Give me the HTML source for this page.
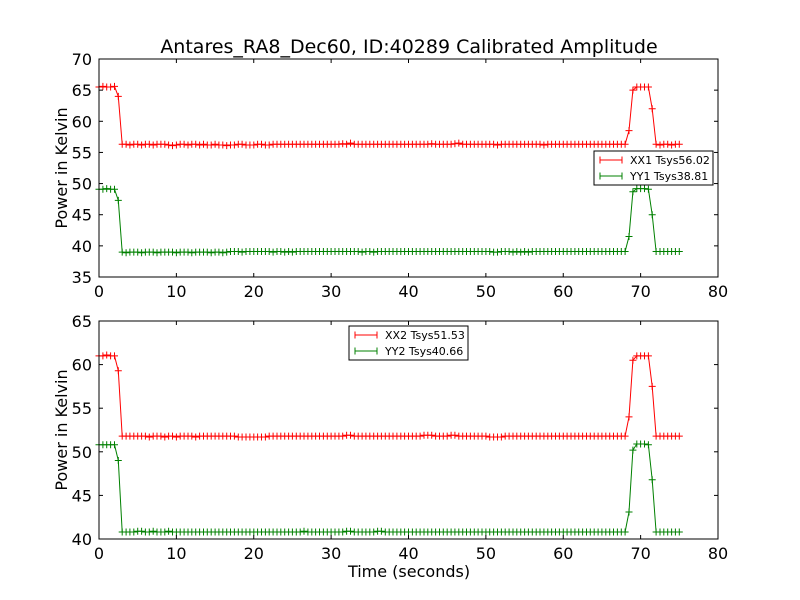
<!DOCTYPE html>
<html><head><meta charset="utf-8"><style>
body{margin:0;background:#fff;}
svg{display:block;font-family:"DejaVu Sans","Liberation Sans",sans-serif;}
</style></head><body>
<svg id="chart" width="800" height="600" viewBox="0 0 800 600">
<rect width="800" height="600" fill="#fff"/>
</svg>
<script>
const times = [0,0.5,1,1.5,2,2.5,3,3.5,4,4.5,5,5.5,6,6.5,7,7.5,8,8.5,9,9.5,10,10.5,11,11.5,12,12.5,13,13.5,14,14.5,15,15.5,16,16.5,17,17.5,18,18.5,19,19.5,20,20.5,21,21.5,22,22.5,23,23.5,24,24.5,25,25.5,26,26.5,27,27.5,28,28.5,29,29.5,30,30.5,31,31.5,32,32.5,33,33.5,34,34.5,35,35.5,36,36.5,37,37.5,38,38.5,39,39.5,40,40.5,41,41.5,42,42.5,43,43.5,44,44.5,45,45.5,46,46.5,47,47.5,48,48.5,49,49.5,50,50.5,51,51.5,52,52.5,53,53.5,54,54.5,55,55.5,56,56.5,57,57.5,58,58.5,59,59.5,60,60.5,61,61.5,62,62.5,63,63.5,64,64.5,65,65.5,66,66.5,67,67.5,68,68.5,69,69.5,70,70.5,71,71.5,72,72.5,73,73.5,74,74.5,75];
const xx1 = [65.5,65.6,65.5,65.5,65.6,64.0,56.3,56.3,56.2,56.3,
56.3,56.2,56.3,56.3,56.2,56.3,56.3,56.3,56.2,56.1,
56.2,56.3,56.3,56.2,56.3,56.3,56.2,56.3,56.2,56.2,
56.3,56.2,56.2,56.1,56.2,56.2,56.3,56.3,56.2,56.2,
56.2,56.3,56.3,56.2,56.2,56.3,56.3,56.3,56.3,56.3,
56.3,56.3,56.3,56.3,56.3,56.3,56.3,56.3,56.3,56.3,
56.3,56.3,56.3,56.4,56.3,56.5,56.3,56.3,56.3,56.3,
56.3,56.3,56.3,56.3,56.3,56.3,56.3,56.3,56.3,56.3,
56.3,56.3,56.3,56.3,56.3,56.3,56.4,56.3,56.3,56.3,
56.3,56.3,56.4,56.5,56.3,56.3,56.3,56.3,56.3,56.3,
56.3,56.3,56.3,56.2,56.3,56.3,56.3,56.3,56.3,56.3,
56.3,56.3,56.3,56.3,56.3,56.2,56.3,56.3,56.3,56.3,
56.3,56.3,56.3,56.3,56.3,56.3,56.3,56.3,56.3,56.3,
56.3,56.3,56.3,56.3,56.3,56.3,56.3,58.5,65.0,65.5,
65.5,65.5,65.5,62.0,56.3,56.2,56.3,56.3,56.2,56.3,56.3];
const yy1 = [49.1,49.1,49.2,49.1,49.1,47.3,39.0,38.9,39.0,39.0,
39.0,38.9,39.0,39.0,39.0,38.9,39.0,39.0,39.0,39.0,
38.9,39.0,39.0,39.0,38.9,39.0,39.0,39.0,39.0,38.9,
39.0,39.0,38.9,39.0,39.1,39.1,39.1,39.0,39.1,39.1,
39.1,39.1,39.1,39.1,39.1,39.0,39.1,39.1,39.0,39.1,
39.0,39.1,39.1,39.1,39.1,39.1,39.1,39.1,39.1,39.1,
39.1,39.1,39.1,39.1,39.1,39.1,39.1,39.1,39.0,39.1,
39.1,39.0,39.1,39.1,39.1,39.1,39.1,39.1,39.1,39.1,
39.1,39.1,39.1,39.1,39.1,39.1,39.1,39.1,39.1,39.1,
39.1,39.1,39.1,39.1,39.1,39.1,39.1,39.1,39.1,39.1,
39.1,39.1,39.0,39.0,39.1,39.1,39.1,39.0,39.1,39.0,
39.1,39.0,39.1,39.1,39.1,39.1,39.1,39.1,39.1,39.1,
39.1,39.1,39.1,39.1,39.1,39.1,39.1,39.1,39.1,39.1,
39.1,39.1,39.1,39.1,39.1,39.1,39.1,41.5,48.7,49.2,
49.2,49.2,49.1,45.0,39.1,39.1,39.1,39.1,39.1,39.1,39.1];
const xx2 = [61.0,61.0,61.1,61.0,61.0,59.3,51.8,51.8,51.8,51.8,
51.8,51.8,51.8,51.7,51.8,51.8,51.8,51.7,51.8,51.8,
51.7,51.8,51.8,51.8,51.8,51.7,51.8,51.8,51.8,51.8,
51.8,51.8,51.8,51.8,51.8,51.8,51.7,51.7,51.7,51.7,
51.7,51.7,51.7,51.7,51.8,51.8,51.8,51.8,51.8,51.8,
51.8,51.8,51.8,51.8,51.8,51.8,51.8,51.8,51.8,51.8,
51.8,51.8,51.8,51.8,51.9,51.9,51.8,51.8,51.8,51.8,
51.8,51.8,51.8,51.8,51.8,51.8,51.8,51.8,51.8,51.8,
51.8,51.8,51.8,51.8,51.9,51.9,51.9,51.8,51.8,51.8,
51.8,51.9,51.9,51.8,51.8,51.8,51.8,51.8,51.8,51.8,
51.8,51.7,51.7,51.7,51.7,51.8,51.8,51.8,51.8,51.8,
51.8,51.8,51.8,51.8,51.8,51.8,51.8,51.8,51.8,51.8,
51.8,51.8,51.8,51.8,51.8,51.8,51.8,51.8,51.8,51.8,
51.8,51.8,51.8,51.8,51.8,51.8,51.8,54.0,60.5,61.0,
61.0,61.0,61.0,57.5,51.8,51.8,51.8,51.8,51.8,51.8,51.8];
const yy2 = [50.8,50.8,50.8,50.8,50.8,49.0,40.8,40.8,40.8,40.8,
40.9,40.9,40.8,40.8,40.9,40.8,40.8,40.8,40.9,40.8,
40.8,40.8,40.8,40.8,40.8,40.8,40.8,40.8,40.8,40.8,
40.8,40.8,40.8,40.8,40.8,40.8,40.8,40.8,40.8,40.8,
40.8,40.8,40.8,40.8,40.8,40.8,40.8,40.8,40.8,40.8,
40.8,40.8,40.8,40.9,40.8,40.8,40.8,40.8,40.8,40.8,
40.8,40.8,40.8,40.8,40.9,40.9,40.8,40.8,40.8,40.8,
40.8,40.8,40.9,40.9,40.8,40.8,40.8,40.8,40.8,40.8,
40.8,40.8,40.8,40.8,40.8,40.8,40.8,40.8,40.8,40.8,
40.8,40.8,40.8,40.8,40.8,40.8,40.8,40.8,40.8,40.8,
40.8,40.8,40.8,40.8,40.8,40.8,40.8,40.8,40.8,40.8,
40.8,40.8,40.8,40.8,40.8,40.8,40.8,40.8,40.8,40.8,
40.8,40.8,40.8,40.8,40.8,40.8,40.8,40.8,40.8,40.8,
40.8,40.8,40.8,40.8,40.8,40.8,40.8,43.1,50.2,50.9,
50.9,50.9,50.8,46.8,40.8,40.8,40.8,40.8,40.8,40.8,40.8];
const xTicks = [0,10,20,30,40,50,60,70,80];
const yTicksTop = [35,40,45,50,55,60,65,70];
const yTicksBottom = [40,45,50,55,60,65];

const svg = document.getElementById('chart');
const NS = 'http://www.w3.org/2000/svg';
function mk(tag, attrs, parent){
  const e = document.createElementNS(NS, tag);
  for (const k in attrs) e.setAttribute(k, attrs[k]);
  (parent||svg).appendChild(e);
  return e;
}
function panel(name, top, bottom, ymin, ymax, yTicks, series, legend, showXLabel){
  const L = 99, R = 718;
  const g = mk('g', {});
  
  
  const xs = v => L + (v - xTicks[0]) / (xTicks[xTicks.length-1] - xTicks[0]) * (R - L);
  const ys = v => bottom - (v - ymin) / (ymax - ymin) * (bottom - top);
  // series
  series.forEach(s => {
    const sg = mk('g', {}, g);
    
    
    const pts = s.data.map((v,i) => xs(times[i]).toFixed(1) + ',' + ys(v).toFixed(1)).join(' ');
    mk('polyline', {points: pts, fill: 'none', stroke: s.color, 'stroke-width': 1}, sg);
    let d = '';
    s.data.forEach((v,i) => {
      const x = xs(times[i]), y = ys(v);
      d += 'M' + (x-3.5).toFixed(1) + ' ' + y.toFixed(1) + 'h7M' + x.toFixed(1) + ' ' + (y-3.5).toFixed(1) + 'v7';
    });
    const m = mk('path', {d: d, stroke: s.color, 'stroke-width': 1, fill: 'none'}, sg);
    
    
  });
  // frame
  const f = mk('rect', {x: L, y: top, width: R-L, height: bottom-top, fill: 'none', stroke: '#000', 'stroke-width': 1}, g);
  
  
  xTicks.forEach(t => {
    const x = xs(t);
    mk('line', {x1: x, x2: x, y1: bottom, y2: bottom-4, stroke: '#000'}, g);
    mk('line', {x1: x, x2: x, y1: top, y2: top+4, stroke: '#000'}, g);
    const tx = mk('text', {x: x, y: bottom+20, 'text-anchor': 'middle', 'font-size': 16}, g);
    
    
    tx.textContent = t;
  });
  yTicks.forEach(t => {
    const y = ys(t);
    mk('line', {x1: L, x2: L+4, y1: y, y2: y, stroke: '#000'}, g);
    mk('line', {x1: R, x2: R-4, y1: y, y2: y, stroke: '#000'}, g);
    const tx = mk('text', {x: L-7, y: y+6, 'text-anchor': 'end', 'font-size': 16}, g);
    
    
    tx.textContent = t;
  });
  const yl = mk('text', {x: 0, y: 0, 'text-anchor': 'middle', 'font-size': 16, transform: 'translate(67,' + ((top+bottom)/2) + ') rotate(-90)'}, g);
  
  
  yl.textContent = 'Power in Kelvin';
  // legend
  const lg = mk('g', {}, g);
  
  
  mk('rect', {x: legend.x, y: legend.y, width: 119, height: 34, fill: '#fff', stroke: '#000', 'stroke-width': 1}, lg);
  series.forEach((s,i) => {
    const ly = legend.y + 9 + i*16;
    const e = mk('g', {}, lg);
    
    
    mk('line', {x1: legend.x+6, x2: legend.x+28, y1: ly, y2: ly, stroke: s.color}, e);
    mk('line', {x1: legend.x+6, x2: legend.x+6, y1: ly-3.5, y2: ly+3.5, stroke: s.color}, e);
    mk('line', {x1: legend.x+28, x2: legend.x+28, y1: ly-3.5, y2: ly+3.5, stroke: s.color}, e);
    const t = mk('text', {x: legend.x+36, y: ly+4, 'font-size': 11}, e);
    t.textContent = s.label;
  });
}
panel('top-panel', 59, 277, 35, 70, yTicksTop,
  [{name:'xx1', data: xx1, color:'#ff0000', label:'XX1 Tsys56.02'},
   {name:'yy1', data: yy1, color:'#008000', label:'YY1 Tsys38.81'}],
  {x: 594, y: 151});
panel('bottom-panel', 321, 539, 40, 65, yTicksBottom,
  [{name:'xx2', data: xx2, color:'#ff0000', label:'XX2 Tsys51.53'},
   {name:'yy2', data: yy2, color:'#008000', label:'YY2 Tsys40.66'}],
  {x: 349, y: 326});
const title = mk('text', {x: 409, y: 53, 'text-anchor': 'middle', 'font-size': 19});


title.textContent = 'Antares_RA8_Dec60, ID:40289 Calibrated Amplitude';
const xl = mk('text', {x: 409, y: 577, 'text-anchor': 'middle', 'font-size': 16});


xl.textContent = 'Time (seconds)';
</script>
</body></html>
